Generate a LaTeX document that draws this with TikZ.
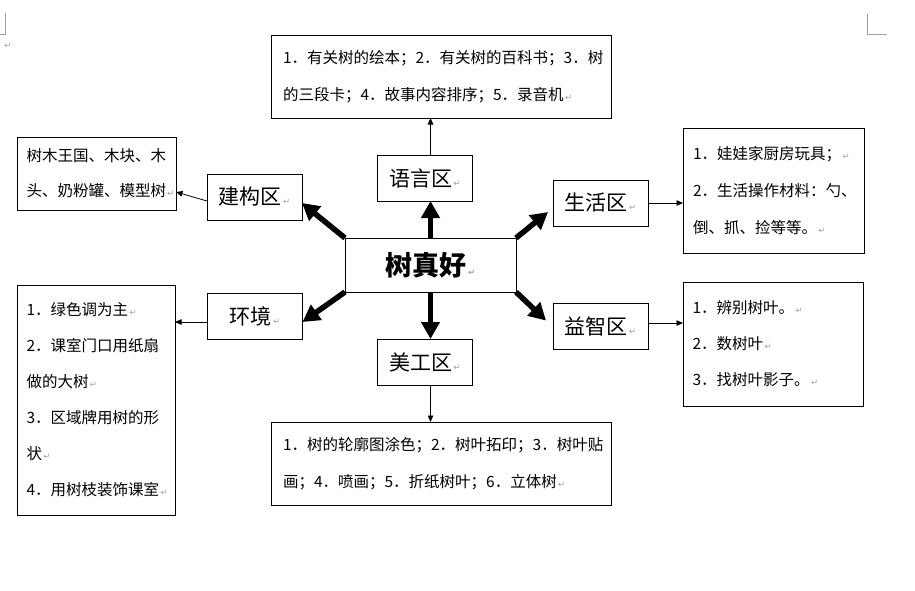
\documentclass[tikz,border=0pt]{standalone}
\usepackage{fontspec}
\newfontfamily\cjk{Noto Sans CJK SC}
\newfontfamily\djv{DejaVu Sans}
\usetikzlibrary{arrows.meta}
\definecolor{markgray}{RGB}{160,160,160}
\newcommand{\pmk}{{\color{markgray}\djv\fontsize{8.5}{8.5}\selectfont\,↵}}
\begin{document}
\begin{tikzpicture}[x=1pt,y=-1pt,
  every node/.style={inner sep=0pt, outer sep=0pt},
  box/.style={draw, line width=0.9pt, align=left, inner ysep=0pt},
  zone/.style={draw, line width=0.9pt, minimum width=95pt, minimum height=46pt,
    font=\cjk\fontsize{21}{21}\selectfont},
  thickarr/.style={line width=5.5pt, -{Triangle[length=17pt,width=18pt]}},
  thinarr/.style={line width=0.8pt, -{Triangle[length=6.5pt,width=5.5pt]}},
  corner/.style={draw=markgray, line width=0.9pt},
]
\useasboundingbox (0,0) rectangle (915,590);

% corner and paragraph marks
\draw[corner] (5,13) -- (5,34) -- (0,34);
\draw[corner] (867,14) -- (867,34) -- (887,34);
\node[text=markgray, font=\djv\fontsize{8.5}{8.5}\selectfont] (pm) at (8,46) {↵};

% centre
\node[draw, line width=0.9pt, minimum width=171pt, minimum height=54pt,
      font=\cjk\bfseries\fontsize{27}{27}\selectfont] (c) at (430.5,265) {树真好\pmk};

% zones
\node[zone] (yy) at (425,178) {语言区\pmk};
\node[zone] (jg) at (254.5,197) {建构区\pmk};
\node[zone] (hj) at (255,316) {环境\pmk};
\node[zone] (sh) at (600.5,203) {生活区\pmk};
\node[zone] (yz) at (600.5,326.5) {益智区\pmk};
\node[zone] (mg) at (425,362) {美工区\pmk};

% content boxes
\node[box, text width=316pt, inner xsep=12pt, minimum height=83pt,
      font=\cjk\fontsize{15.5}{37}\selectfont] (lang) at (441,76.5)
  {1．有关树的绘本；2．有关树的百科书；3．树\\的三段卡；4．故事内容排序；5．录音机\pmk};
\node[box, text width=140pt, inner xsep=9.5pt, minimum height=73pt,
      font=\cjk\fontsize{15.5}{35}\selectfont] (lt) at (96.5,173.5)
  {树木王国、木块、木\\头、奶粉罐、模型树\pmk};
\node[box, text width=139pt, inner xsep=9.5pt, minimum height=230pt,
      font=\cjk\fontsize{15.5}{36}\selectfont] (lb) at (96,400)
  {1．绿色调为主\pmk\\2．课室门口用纸扇\\做的大树\pmk\\3．区域牌用树的形\\状\pmk\\4．用树枝装饰课室\pmk};
\node[box, text width=161pt, inner xsep=10pt, minimum height=125pt,
      font=\cjk\fontsize{15.5}{37}\selectfont] (rt) at (773.5,190.5)
  {1．娃娃家厨房玩具；\pmk\\2．生活操作材料：勺、\\倒、抓、捡等等。\pmk};
\node[box, text width=161pt, inner xsep=9.5pt, minimum height=124pt,
      font=\cjk\fontsize{15.5}{36}\selectfont] (rb) at (773,344)
  {1．辨别树叶。\pmk\\2．数树叶\pmk\\3．找树叶影子。\pmk};
\node[box, text width=316pt, inner xsep=12pt, minimum height=83pt,
      font=\cjk\fontsize{15.5}{37}\selectfont] (bot) at (441,463.5)
  {1．树的轮廓图涂色；2．树叶拓印；3．树叶贴\\画；4．喷画；5．折纸树叶；6．立体树\pmk};

% thick arrows from centre
\draw[thickarr] (c.north) -- (c.north |- yy.south);
\draw[thickarr] (c.south) -- (c.south |- mg.north);
\draw[thickarr] (c.north west) -- ([yshift=-6pt]jg.east);
\draw[thickarr] (c.south west) -- ([yshift=-6pt]hj.east);
\draw[thickarr] (c.north east) -- ([xshift=-5pt,yshift=-9pt]sh.west);
\draw[thickarr] (c.south east) -- ([xshift=-7pt,yshift=6pt]yz.west);

% thin arrows to content boxes
\draw[thinarr] (c.north |- yy.north) -- (c.north |- lang.south);
\draw[thinarr] (c.south |- mg.south) -- (c.south |- bot.north);
\draw[thinarr] ([yshift=-4pt]jg.west) -- ([yshift=-18.5pt]lt.east);
\coordinate (hjw) at ([yshift=-6pt]hj.west);
\draw[thinarr] (hjw) -- (hjw -| lb.east);
\draw[thinarr] (sh.east) -- (sh.east -| rt.west);
\coordinate (yze) at ([yshift=3.5pt]yz.east);
\draw[thinarr] (yze) -- (yze -| rb.west);
\end{tikzpicture}
\end{document}
